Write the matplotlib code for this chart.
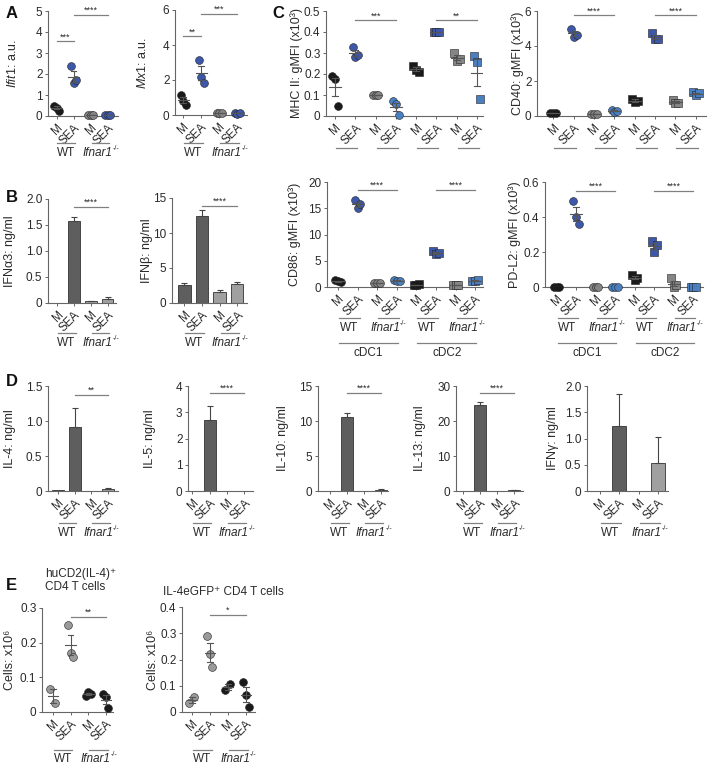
import matplotlib
matplotlib.use("Agg")
import matplotlib.pyplot as plt
import matplotlib.transforms as mtransforms
import numpy as np

plt.rcParams["font.family"] = ["Liberation Sans", "DejaVu Sans"]
plt.rcParams["mathtext.fontset"] = "custom"
plt.rcParams["mathtext.rm"] = "Liberation Sans"
plt.rcParams["mathtext.it"] = "Liberation Sans:italic"
plt.rcParams["font.size"] = 7

W, H = 709, 766

# ---- data -------------------------------------------------------------
cats4 = ["M", "SEA", "M", "SEA"]
cats8 = cats4 + cats4

# A: qPCR, a.u. (WT M, WT SEA, Ifnar M, Ifnar SEA)
ifit1 = [[0.50, 0.40, 0.25], [2.38, 1.55, 1.70], [0.05, 0.04, 0.05], [0.03, 0.03, 0.04]]
mx1 = [[1.15, 0.80, 0.60], [3.15, 2.20, 1.85], [0.10, 0.12, 0.09], [0.10, 0.08, 0.11]]

# B: ELISA means and SEM
ifna3_mean = [0.0, 1.58, 0.03, 0.08]
ifna3_err = [0.0, 0.07, 0.01, 0.04]
ifnb_mean = [2.5, 12.5, 1.5, 2.7]
ifnb_err = [0.3, 0.8, 0.3, 0.3]

# C: gMFI (x10^3); cDC1 (4 groups) then cDC2 (4 groups)
mhc2 = [[0.19, 0.175, 0.05], [0.33, 0.28, 0.29], [0.10, 0.10, 0.10], [0.07, 0.055, 0.005],
        [0.24, 0.22, 0.21], [0.40, 0.40, 0.40], [0.30, 0.26, 0.27], [0.285, 0.255, 0.08]]
cd40 = [[0.15, 0.15, 0.15], [5.0, 4.5, 4.65], [0.1, 0.1, 0.1], [0.35, 0.25, 0.3],
        [1.0, 0.8, 0.85], [4.75, 4.4, 4.4], [0.9, 0.75, 0.75], [1.35, 1.2, 1.3]]
cd86 = [[1.3, 1.1, 1.0], [16.5, 15.0, 15.8], [0.8, 0.7, 0.8], [1.3, 1.2, 1.1],
        [0.4, 0.3, 0.5], [6.8, 6.3, 6.4], [0.3, 0.3, 0.3], [1.2, 1.1, 1.3]]
pdl2 = [[0.0, 0.0, 0.0], [0.49, 0.40, 0.36], [0.0, 0.0, 0.0], [0.0, 0.0, 0.0],
        [0.07, 0.04, 0.05], [0.265, 0.20, 0.24], [0.05, 0.0, 0.01], [0.0, 0.0, 0.0]]

# D: cytokines, means and SEM
il4_mean = [0.01, 0.92, 0.0, 0.03]
il4_err = [0.0, 0.27, 0.0, 0.02]
il5_mean = [0.0, 2.72, 0.0, 0.0]
il5_err = [0.0, 0.5, 0.0, 0.0]
il10_mean = [0.0, 10.6, 0.0, 0.2]
il10_err = [0.0, 0.6, 0.0, 0.1]
il13_mean = [0.0, 24.5, 0.0, 0.3]
il13_err = [0.0, 0.8, 0.0, 0.1]
ifng_mean = [0.0, 1.23, 0.0, 0.53]
ifng_err = [0.0, 0.62, 0.0, 0.50]

# E: cell numbers x10^6
hucd2 = [[0.065, 0.025], [0.25, 0.17, 0.16], [0.047, 0.057, 0.052], [0.052, 0.043, 0.012]]
il4egfp = [[0.035, 0.058], [0.29, 0.22, 0.17], [0.085, 0.105], [0.115, 0.065, 0.02]]

# ---- style ------------------------------------------------------------
BLACK = "#1a1a1a"
DBLUE = "#3d58a8"
LBLUE = "#4a80c2"
GREY = "#858585"
LGREY = "#9a9a9a"
BAR_DARK = "#5e5e5e"
BAR_LIGHT = "#a0a0a0"
SPINE = "#666666"
TXT = "#2a2a2a"

fig = plt.figure(figsize=(W / 100, H / 100), dpi=100)


def add_ax(x0, ytop, x1, ybot, ylim, yticks, yticklabels, ylabel, xlim, labx):
    ax = fig.add_axes([x0 / W, 1 - ybot / H, (x1 - x0) / W, (ybot - ytop) / H])
    for s in ("top", "right"):
        ax.spines[s].set_visible(False)
    for s in ("left", "bottom"):
        ax.spines[s].set_color(SPINE)
        ax.spines[s].set_linewidth(0.8)
    ax.set_ylim(*ylim)
    ax.set_xlim(*xlim)
    ax.set_yticks(yticks)
    ax.set_yticklabels(yticklabels, fontsize=8.5, color=TXT)
    ax.tick_params(axis="both", length=2.5, width=0.7, color=SPINE, pad=1.5)
    ax.set_ylabel(ylabel, fontsize=9, color=TXT, va="center")
    # label centre given in figure pixels
    ax.yaxis.set_label_coords((labx - x0) / (x1 - x0), 0.5)
    return ax


def set_xcats(ax, pos, labels):
    ax.set_xticks(pos)
    ax.set_xticklabels(labels, rotation=45, ha="right", rotation_mode="anchor",
                       fontsize=8.5, color=TXT)


def scatter_groups(ax, pos, groups, colors, markers):
    for x, vals, c, m in zip(pos, groups, colors, markers):
        n = len(vals)
        offs = np.linspace(-0.14, 0.14, n) if n > 1 else np.zeros(1)
        ax.scatter(x + offs, vals, s=32, c=c, marker=m, edgecolors="#222222",
                   linewidths=0.4, zorder=3, clip_on=False)
        mean = np.mean(vals)
        sem = np.std(vals, ddof=1) / np.sqrt(n)
        ax.plot([x - 0.3, x + 0.3], [mean, mean], color="#555555", lw=0.8, zorder=4)
        ax.plot([x, x], [mean - sem, mean + sem], color="#555555", lw=0.8, zorder=4)
        for v in (mean - sem, mean + sem):
            ax.plot([x - 0.15, x + 0.15], [v, v], color="#555555", lw=0.8, zorder=4)


def bars(ax, pos, means, errs, colors):
    ax.bar(pos, means, width=0.7, color=colors, edgecolor="#333333", linewidth=0.6,
           zorder=2)
    for x, m, e in zip(pos, means, errs):
        if e > 0:
            ax.errorbar(x, m, yerr=[[0], [e]], fmt="none", ecolor="#444444",
                        elinewidth=0.8, capsize=2.5, capthick=0.8, zorder=3)


def sig(ax, x0, x1, y, stars):
    ax.plot([x0, x1], [y, y], color="#808080", lw=0.9, clip_on=False)
    ax.text((x0 + x1) / 2, y, stars, ha="center", va="bottom", fontsize=6.5,
            color=TXT, clip_on=False)


def hline(ax, x0, x1, ypx):
    tr = mtransforms.blended_transform_factory(ax.transData, fig.transFigure)
    ax.plot([x0, x1], [1 - ypx / H] * 2, color="#808080", lw=0.9, transform=tr,
            clip_on=False)


def htext(ax, x, ypx, s, **kw):
    tr = mtransforms.blended_transform_factory(ax.transData, fig.transFigure)
    return ax.text(x, 1 - ypx / H, s, transform=tr, ha="center", va="center",
                   fontsize=8.5, color=TXT, **kw)


def ifnar_text(ax, x, ypx):
    t = htext(ax, x - 0.15, ypx, "Ifnar1", style="italic")
    ax.annotate("-/-", xy=(1.0, 0.85), xycoords=t, ha="left", va="center",
                fontsize=5, color=TXT)


def groups(ax, base, yline, ytext=None):
    for b in base:
        hline(ax, b + 0.05, b + 1.1, yline)
        hline(ax, b + 2.05, b + 3.1, yline)
        if ytext is not None:
            htext(ax, b + 0.55, ytext, "WT")
            ifnar_text(ax, b + 2.55, ytext)


pos4 = np.arange(4)
pos8 = np.arange(8)

# ---- A ----------------------------------------------------------------
colA = [BLACK, DBLUE, GREY, DBLUE]
mkA = ["o"] * 4
ax = add_ax(48, 11, 118, 116, (0, 5), [0, 1, 2, 3, 4, 5], ["0", "1", "2", "3", "4", "5"],
            r"$\it{Ifit1}$: a.u.", (-0.5, 3.6), 12)
set_xcats(ax, pos4, cats4)
scatter_groups(ax, pos4, ifit1, colA, mkA)
sig(ax, 0, 1, 3.55, "***")
sig(ax, 1, 3, 4.8, "****")
groups(ax, [0], 143, 153)

ax = add_ax(175, 10, 247, 115, (0, 6), [0, 2, 4, 6], ["0", "2", "4", "6"],
            r"$\it{Mx1}$: a.u.", (-0.45, 3.55), 142)
set_xcats(ax, pos4, cats4)
scatter_groups(ax, pos4, mx1, colA, mkA)
sig(ax, 0, 1, 4.5, "**")
sig(ax, 1, 3, 5.8, "***")
groups(ax, [0], 143, 153)

# ---- B ----------------------------------------------------------------
colB = [BAR_DARK, BAR_DARK, BAR_LIGHT, BAR_LIGHT]
ax = add_ax(48, 199, 116, 303, (0, 2.0), [0, 0.5, 1.0, 1.5, 2.0],
            ["0", "0.5", "1.0", "1.5", "2.0"], "IFN\u03b13: ng/ml", (-0.55, 3.5), 10)
set_xcats(ax, pos4, cats4)
bars(ax, pos4, ifna3_mean, ifna3_err, colB)
sig(ax, 1, 3, 1.85, "****")
groups(ax, [0], 333, 343)

ax = add_ax(172, 198, 247, 303, (0, 15), [0, 5, 10, 15], ["0", "5", "10", "15"],
            "IFN\u03b2: ng/ml", (-0.7, 3.55), 147)
set_xcats(ax, pos4, cats4)
bars(ax, pos4, ifnb_mean, ifnb_err, colB)
sig(ax, 1, 3, 13.9, "****")
groups(ax, [0], 333, 343)

# ---- C ----------------------------------------------------------------
colC = [BLACK, DBLUE, GREY, LBLUE] * 2
mkC = ["o"] * 4 + ["s"] * 4

ax = add_ax(326, 11, 483, 116, (0, 0.5), [0, 0.1, 0.2, 0.3, 0.4, 0.5],
            ["0", "0.1", "0.2", "0.3", "0.4", "0.5"], "MHC II: gMFI (x10\u00b3)",
            (-0.45, 7.3), 297)
set_xcats(ax, pos8, cats8)
scatter_groups(ax, pos8, mhc2, colC, mkC)
sig(ax, 1, 3, 0.455, "***")
sig(ax, 5, 7, 0.455, "**")
groups(ax, [0, 4], 148)

ax = add_ax(537, 11, 706, 116, (0, 6), [0, 2, 4, 6], ["0", "2", "4", "6"],
            "CD40: gMFI (x10\u00b3)", (-0.8, 7.5), 518)
set_xcats(ax, pos8, cats8)
scatter_groups(ax, pos8, cd40, colC, mkC)
sig(ax, 1, 3, 5.75, "****")
sig(ax, 5, 7, 5.75, "****")
groups(ax, [0, 4], 148)

ax = add_ax(327, 182, 483, 287, (0, 20), [0, 5, 10, 15, 20], ["0", "5", "10", "15", "20"],
            "CD86: gMFI (x10\u00b3)", (-0.56, 7.4), 295)
set_xcats(ax, pos8, cats8)
scatter_groups(ax, pos8, cd86, colC, mkC)
sig(ax, 1, 3, 18.5, "****")
sig(ax, 5, 7, 18.5, "****")
groups(ax, [0, 4], 318, 328)
hline(ax, 0.05, 3.05, 343)
hline(ax, 4.05, 7.05, 343)
htext(ax, 1.55, 353, "cDC1")
htext(ax, 5.55, 353, "cDC2")

ax = add_ax(545, 182, 703, 287, (0, 0.6), [0, 0.2, 0.4, 0.6], ["0", "0.2", "0.4", "0.6"],
            "PD-L2: gMFI (x10\u00b3)", (-0.6, 7.5), 515)
set_xcats(ax, pos8, cats8)
ax.axhline(0, color="#777777", lw=0.8, ls=":", zorder=1)
scatter_groups(ax, pos8, pdl2, colC, mkC)
sig(ax, 1, 3, 0.55, "****")
sig(ax, 5, 7, 0.55, "****")
groups(ax, [0, 4], 318, 328)
hline(ax, 0.05, 3.05, 343)
hline(ax, 4.05, 7.05, 343)
htext(ax, 1.55, 353, "cDC1")
htext(ax, 5.55, 353, "cDC2")

# ---- D ----------------------------------------------------------------
d_panels = [
    (48, 118, (0, 1.5), [0, 0.5, 1.0, 1.5], ["0", "0.5", "1.0", "1.5"], "IL-4: ng/ml",
     (-0.6, 3.6), il4_mean, il4_err, 1.37, "**", 10),
    (188, 253, (0, 4), [0, 1, 2, 3, 4], ["0", "1", "2", "3", "4"], "IL-5: ng/ml",
     (-0.25, 3.5), il5_mean, il5_err, 3.75, "****", 150),
    (318, 388, (0, 15), [0, 5, 10, 15], ["0", "5", "10", "15"], "IL-10: ng/ml",
     (-0.7, 3.4), il10_mean, il10_err, 14.0, "****", 283),
    (456, 523, (0, 30), [0, 10, 20, 30], ["0", "10", "20", "30"], "IL-13: ng/ml",
     (-0.4, 3.5), il13_mean, il13_err, 28.0, "****", 420),
    (587, 668, (0, 2.0), [0, 0.5, 1.0, 1.5, 2.0], ["0", "0.5", "1.0", "1.5", "2.0"],
     "IFN\u03b3: ng/ml", (-0.65, 3.5), ifng_mean, ifng_err, None, None, 553),
]
for x0, x1, yl, yt, ytl, lab, xl, m, e, sy, st, lx in d_panels:
    ax = add_ax(x0, 386, x1, 491, yl, yt, ytl, lab, xl, lx)
    set_xcats(ax, pos4, cats4)
    bars(ax, pos4, m, e, colB)
    if sy is not None:
        sig(ax, 1, 3, sy, st)
    groups(ax, [0], 523, 533)

# ---- E ----------------------------------------------------------------
colE = [LGREY, LGREY, BLACK, BLACK]
mkE = ["o"] * 4
ax = add_ax(42, 608, 113, 712, (0, 0.3), [0, 0.1, 0.2, 0.3], ["0", "0.1", "0.2", "0.3"],
            "Cells: x10\u2076", (-0.62, 3.4), 10)
set_xcats(ax, pos4, cats4)
scatter_groups(ax, pos4, hucd2, colE, mkE)
sig(ax, 1, 3, 0.275, "**")
groups(ax, [0], 750, 759)
fig.text(45 / W, 1 - 568 / H, "huCD2(IL-4)\u207a\nCD4 T cells", fontsize=8.5,
         color=TXT, ha="left", va="top", linespacing=1.15)

ax = add_ax(182, 607, 255, 712, (0, 0.4), [0, 0.1, 0.2, 0.3, 0.4],
            ["0", "0.1", "0.2", "0.3", "0.4"], "Cells: x10\u2076", (-0.55, 3.5), 153)
set_xcats(ax, pos4, cats4)
scatter_groups(ax, pos4, il4egfp, colE, mkE)
sig(ax, 1, 3, 0.37, "*")
groups(ax, [0], 750, 759)
fig.text(163 / W, 1 - 592 / H, "IL-4eGFP\u207a CD4 T cells", fontsize=8.5,
         color=TXT, ha="left", va="center")

# ---- panel letters ----------------------------------------------------
for lbl, xp, yp in [("A", 6, 14), ("B", 6, 197), ("C", 272, 14), ("D", 6, 381), ("E", 6, 586)]:
    fig.text(xp / W, 1 - yp / H, lbl, fontsize=12, fontweight="bold", ha="left",
             va="center", color="#111111")

fig.savefig("out.png", dpi=100)
